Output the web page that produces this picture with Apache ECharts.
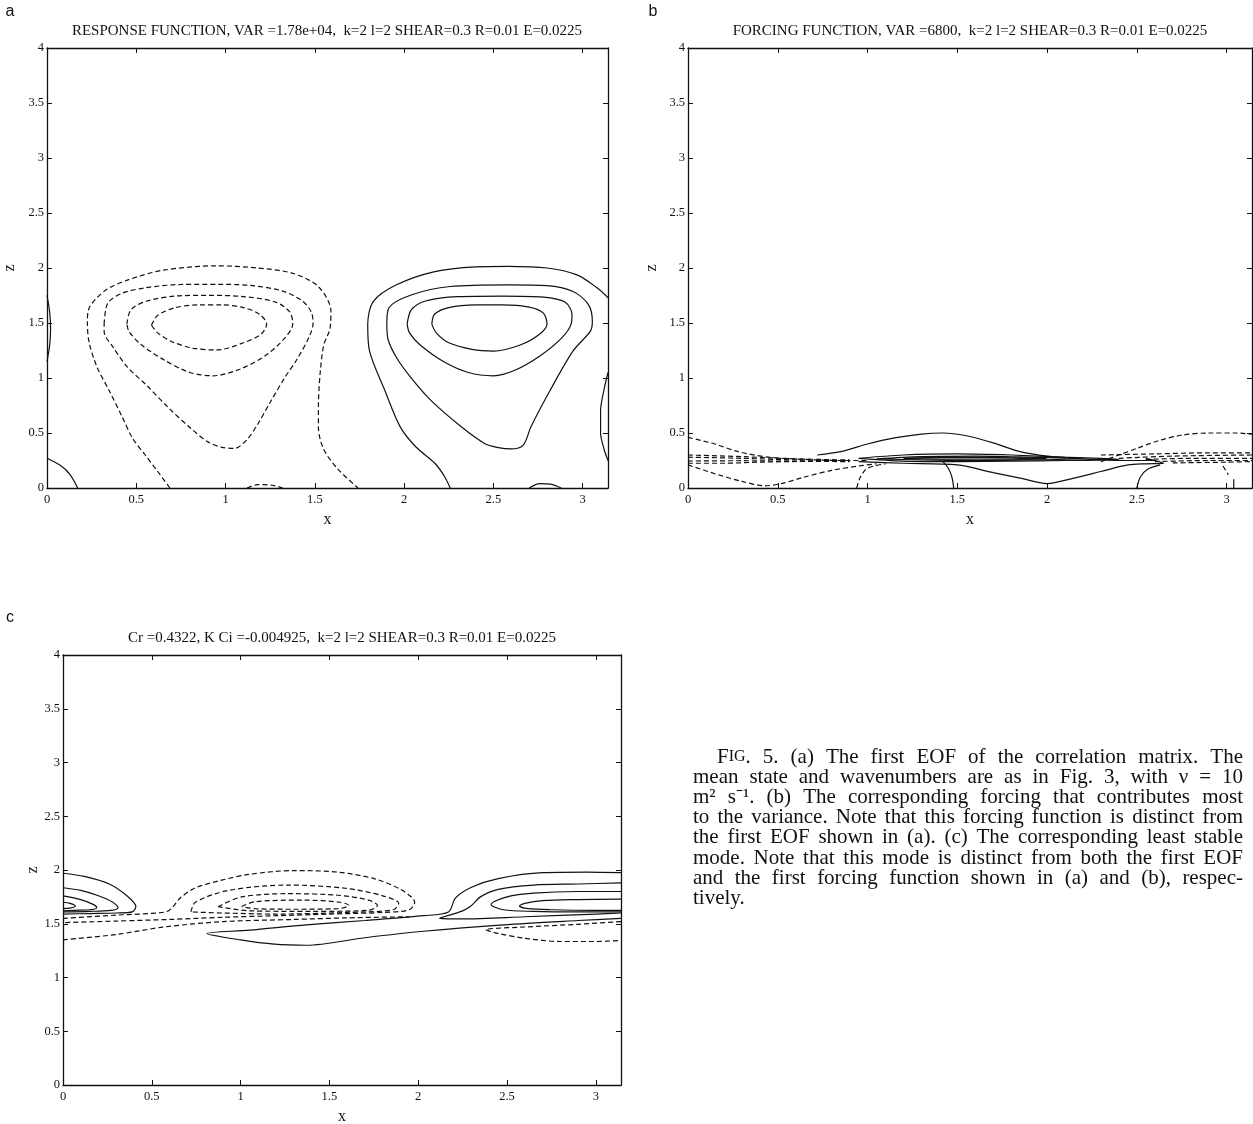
<!DOCTYPE html>
<html>
<head>
<meta charset="utf-8">
<script src="https://cdn.jsdelivr.net/npm/echarts@6/dist/echarts.min.js"></script>
<style>
html,body{margin:0;padding:0;background:#fff;}
#chart{width:1253px;height:1124px;}
</style>
</head>
<body>
<div id="chart"></div>
<script>
// ---------- titles / labels ----------
const panelLabels = ['a', 'b', 'c'];
const panelTitles = [
  'RESPONSE FUNCTION, VAR =1.78e+04,  k=2 l=2 SHEAR=0.3 R=0.01 E=0.0225',
  'FORCING FUNCTION, VAR =6800,  k=2 l=2 SHEAR=0.3 R=0.01 E=0.0225',
  'Cr =0.4322, K Ci =-0.004925,  k=2 l=2 SHEAR=0.3 R=0.01 E=0.0225'
];
const xName = 'x';
const zName = 'z';
const xRange = [0, 3.1416];
const zRange = [0, 4];
const tickStep = 0.5;

const captionLines = [
  'FIG. 5. (a) The first EOF of the correlation matrix. The',
  'mean state and wavenumbers are as in Fig. 3, with ν = 10',
  'm² s⁻¹. (b) The corresponding forcing that contributes most',
  'to the variance. Note that this forcing function is distinct from',
  'the first EOF shown in (a). (c) The corresponding least stable',
  'mode. Note that this mode is distinct from both the first EOF',
  'and the first forcing function shown in (a) and (b), respec-',
  'tively.'
];

// ---------- panel (a): response function contours [x, z] ----------
const aNeg1 = [[0.585,1.48],[0.62,1.57],[0.72,1.64],[0.85,1.665],[0.98,1.665],[1.10,1.64],[1.19,1.58],[1.23,1.49],[1.20,1.40],[1.10,1.32],[0.95,1.255],[0.82,1.27],[0.70,1.33],[0.62,1.41],[0.585,1.48]];
const aNeg2 = [[0.447,1.49],[0.47,1.62],[0.56,1.70],[0.72,1.745],[0.90,1.752],[1.10,1.74],[1.28,1.69],[1.36,1.60],[1.376,1.49],[1.33,1.36],[1.22,1.20],[1.08,1.08],[0.93,1.02],[0.80,1.05],[0.66,1.16],[0.53,1.30],[0.46,1.42],[0.447,1.49]];
const aNeg3 = [[0.32,1.49],[0.34,1.68],[0.42,1.77],[0.55,1.82],[0.75,1.85],[0.97,1.852],[1.15,1.84],[1.32,1.79],[1.43,1.70],[1.48,1.60],[1.49,1.50],[1.47,1.38],[1.40,1.17],[1.33,1.00],[1.25,0.78],[1.18,0.58],[1.12,0.44],[1.05,0.36],[0.98,0.37],[0.90,0.42],[0.80,0.55],[0.68,0.73],[0.56,0.93],[0.45,1.10],[0.37,1.28],[0.32,1.42],[0.32,1.49]];
const aNeg4 = [[0.688,0],[0.62,0.15],[0.55,0.30],[0.48,0.45],[0.42,0.65],[0.35,0.88],[0.28,1.10],[0.235,1.33],[0.226,1.52],[0.24,1.65],[0.33,1.80],[0.45,1.89],[0.65,1.98],[0.946,2.02],[1.18,2.0],[1.38,1.95],[1.52,1.83],[1.59,1.61],[1.585,1.45],[1.55,1.30],[1.53,1.05],[1.52,0.75],[1.52,0.55],[1.55,0.35],[1.63,0.17],[1.742,0]];
const aNeg5 = [[1.12,0],[1.18,0.03],[1.26,0.025],[1.32,0]];
const aPos1 = [[2.155,1.49],[2.17,1.58],[2.25,1.64],[2.40,1.665],[2.55,1.665],[2.70,1.645],[2.78,1.59],[2.80,1.49],[2.76,1.40],[2.65,1.30],[2.50,1.245],[2.38,1.26],[2.25,1.32],[2.18,1.41],[2.155,1.49]];
const aPos2 = [[2.017,1.49],[2.04,1.62],[2.12,1.70],[2.30,1.74],[2.55,1.745],[2.78,1.735],[2.90,1.69],[2.94,1.58],[2.935,1.49],[2.88,1.36],[2.76,1.20],[2.62,1.07],[2.50,1.02],[2.36,1.05],[2.22,1.15],[2.09,1.30],[2.03,1.41],[2.017,1.49]];
const aPos3 = [[1.903,1.49],[1.914,1.637],[2.043,1.757],[2.258,1.832],[2.58,1.847],[2.80,1.84],[2.946,1.787],[3.032,1.667],[3.054,1.516],[3.043,1.426],[2.946,1.246],[2.817,0.886],[2.71,0.556],[2.667,0.39],[2.60,0.355],[2.52,0.37],[2.45,0.405],[2.32,0.556],[2.15,0.796],[2.03,1.02],[1.957,1.186],[1.91,1.35],[1.903,1.49]];
const aPos4 = [[2.258,0],[2.226,0.105],[2.172,0.225],[2.065,0.375],[1.978,0.556],[1.892,0.886],[1.806,1.246],[1.796,1.486],[1.828,1.697],[1.957,1.847],[2.172,1.967],[2.40,2.01],[2.58,2.015],[2.80,2.0],[2.968,1.937],[3.08,1.82],[3.1416,1.73]];
const aPos5 = [[3.1416,1.05],[3.12,0.9],[3.10,0.7],[3.10,0.5],[3.12,0.35],[3.1416,0.25]];
const aPos6 = [[0,1.75],[0.015,1.6],[0.02,1.45],[0.015,1.3],[0,1.15]];
const aPos7 = [[0,0.27],[0.08,0.2],[0.13,0.12],[0.172,0]];
const aPos8 = [[2.70,0],[2.76,0.04],[2.82,0.035],[2.88,0]];

// ---------- panel (b): forcing function contours ----------
const bNeg1 = [[0,0.46],[0.15,0.40],[0.28,0.33],[0.45,0.28],[0.65,0.26],[0.85,0.25],[1.0,0.25]];
const bNeg2 = [[0,0.21],[0.15,0.13],[0.3,0.06],[0.43,0.02],[0.52,0.04],[0.65,0.10],[0.80,0.16],[0.95,0.20],[1.05,0.22]];
const bNeg3 = [[0,0.30],[0.3,0.285],[0.6,0.265],[0.9,0.255]];
const bNeg4 = [[0,0.28],[0.3,0.27],[0.6,0.255],[0.9,0.248]];
const bNeg5 = [[0,0.245],[0.3,0.248],[0.6,0.243],[0.9,0.24]];
const bNeg6 = [[0,0.225],[0.2,0.225],[0.4,0.235],[0.7,0.243]];
const bNeg7 = [[0.94,0],[0.96,0.1],[1.0,0.18],[1.1,0.22]];
const bNeg8 = [[2.30,0.24],[2.40,0.30],[2.50,0.36],[2.62,0.43],[2.75,0.48],[2.90,0.50],[3.05,0.50],[3.1416,0.49]];
const bNeg9 = [[2.3,0.30],[2.6,0.31],[2.9,0.32],[3.1416,0.32]];
const bNeg10 = [[2.4,0.27],[2.7,0.29],[3.1416,0.30]];
const bNeg11 = [[2.55,0.26],[2.8,0.27],[3.1416,0.27]];
const bNeg12 = [[2.6,0.24],[2.9,0.25],[3.1416,0.25]];
const bNeg13 = [[2.7,0.228],[3.0,0.235],[3.1416,0.24]];
const bNeg14 = [[2.98,0.2],[3.01,0.12]];
const bPos1 = [[0.72,0.30],[0.85,0.33],[1.0,0.40],[1.15,0.455],[1.30,0.49],[1.42,0.50],[1.55,0.475],[1.70,0.41],[1.85,0.33],[2.0,0.29],[2.2,0.265],[2.45,0.25],[2.6,0.25]];
const bPos2 = [[0.95,0.24],[1.2,0.225],[1.5,0.21],[1.7,0.14],[1.85,0.09],[2.0,0.04],[2.15,0.09],[2.3,0.15],[2.45,0.21],[2.55,0.22],[2.65,0.225],[2.60,0.25],[2.55,0.27]];
const bPos3 = [[0.95,0.27],[1.2,0.30],[1.5,0.31],[1.8,0.30],[2.1,0.28],[2.4,0.26],[2.1,0.25],[1.8,0.245],[1.5,0.24],[1.2,0.245],[0.95,0.27]];
const bPos4 = [[1.05,0.265],[1.3,0.285],[1.6,0.29],[1.9,0.28],[2.2,0.265],[1.9,0.255],[1.6,0.25],[1.3,0.255],[1.05,0.265]];
const bPos5 = [[1.2,0.27],[1.5,0.28],[1.8,0.275],[2.0,0.27],[1.8,0.262],[1.5,0.262],[1.2,0.27]];
const bPos6 = [[1.42,0.24],[1.45,0.18],[1.47,0.10],[1.48,0]];
const bPos7 = [[2.50,0],[2.52,0.1],[2.56,0.17],[2.63,0.21]];
const bPos8 = [[3.04,0],[3.04,0.08]];

// ---------- panel (c): least stable mode contours ----------
const cPos1 = [[0,1.97],[0.12,1.94],[0.26,1.87],[0.36,1.76],[0.41,1.66],[0.39,1.61],[0.30,1.60],[0.15,1.595],[0,1.59]];
const cPos2 = [[0,1.835],[0.10,1.81],[0.20,1.76],[0.28,1.70],[0.31,1.65],[0.27,1.625],[0.15,1.615],[0,1.61]];
const cPos3 = [[0,1.76],[0.10,1.725],[0.17,1.68],[0.19,1.65],[0.15,1.63],[0.06,1.625],[0,1.62]];
const cPos4 = [[0,1.70],[0.04,1.69],[0.07,1.665],[0.04,1.645],[0,1.64]];
const cPos5 = [[3.1416,1.975],[2.95,1.98],[2.70,1.975],[2.45,1.92],[2.30,1.84],[2.21,1.74],[2.17,1.61],[2.03,1.575],[1.70,1.53],[1.37,1.49],[1.05,1.44],[0.81,1.41],[1.00,1.35],[1.19,1.31],[1.37,1.30],[1.70,1.37],[2.03,1.43],[2.48,1.49],[2.90,1.53],[3.1416,1.55]];
const cPos6 = [[3.1416,1.88],[2.90,1.87],[2.65,1.86],[2.45,1.82],[2.35,1.75],[2.30,1.67],[2.25,1.62],[2.12,1.55],[2.25,1.545],[2.6,1.565],[3.0,1.59],[3.1416,1.60]];
const cPos7 = [[3.1416,1.80],[2.9,1.80],[2.65,1.785],[2.50,1.75],[2.41,1.68],[2.48,1.63],[2.65,1.615],[2.9,1.61],[3.1416,1.61]];
const cPos8 = [[3.1416,1.73],[2.9,1.725],[2.70,1.715],[2.60,1.69],[2.57,1.665],[2.62,1.64],[2.75,1.63],[3.0,1.625],[3.1416,1.625]];
const cNeg1 = [[0,1.55],[0.3,1.58],[0.58,1.61],[0.62,1.66],[0.66,1.74],[0.74,1.83],[0.88,1.90],[1.05,1.96],[1.30,1.995],[1.55,1.98],[1.75,1.92],[1.90,1.82],[1.98,1.70],[1.95,1.63],[1.80,1.605],[1.5,1.59],[1.2,1.575],[0.9,1.56],[0.6,1.54],[0.3,1.525],[0,1.51]];
const cNeg2 = [[0.72,1.61],[0.745,1.70],[0.93,1.81],[1.27,1.86],[1.59,1.83],[1.80,1.76],[1.89,1.69],[1.86,1.63],[1.6,1.605],[1.2,1.59],[0.9,1.60],[0.72,1.61]];
const cNeg3 = [[0.874,1.66],[1.006,1.75],[1.27,1.78],[1.55,1.765],[1.72,1.72],[1.77,1.67],[1.72,1.625],[1.4,1.615],[1.05,1.62],[0.874,1.66]];
const cNeg4 = [[1.006,1.66],[1.08,1.705],[1.35,1.72],[1.56,1.70],[1.61,1.67],[1.55,1.64],[1.3,1.635],[1.08,1.64],[1.006,1.66]];
const cNeg5 = [[0,1.35],[0.3,1.40],[0.57,1.47],[0.9,1.52],[1.3,1.54],[1.6,1.555],[1.95,1.565]];
const cNeg6 = [[3.1416,1.52],[2.9,1.495],[2.6,1.47],[2.38,1.445],[2.45,1.41],[2.6,1.365],[2.8,1.335],[3.0,1.335],[3.1416,1.345]];

const contours = [
  // [grid, dashed, data]
  [0,1,aNeg1],[0,1,aNeg2],[0,1,aNeg3],[0,1,aNeg4],[0,1,aNeg5],
  [0,0,aPos1],[0,0,aPos2],[0,0,aPos3],[0,0,aPos4],[0,0,aPos5],[0,0,aPos6],[0,0,aPos7],[0,0,aPos8],
  [1,1,bNeg1],[1,1,bNeg2],[1,1,bNeg3],[1,1,bNeg4],[1,1,bNeg5],[1,1,bNeg6],[1,1,bNeg7],[1,1,bNeg8],
  [1,1,bNeg9],[1,1,bNeg10],[1,1,bNeg11],[1,1,bNeg12],[1,1,bNeg13],[1,1,bNeg14],
  [1,0,bPos1],[1,0,bPos2],[1,0,bPos3],[1,0,bPos4],[1,0,bPos5],[1,0,bPos6],[1,0,bPos7],[1,0,bPos8],
  [2,0,cPos1],[2,0,cPos2],[2,0,cPos3],[2,0,cPos4],[2,0,cPos5],[2,0,cPos6],[2,0,cPos7],[2,0,cPos8],
  [2,1,cNeg1],[2,1,cNeg2],[2,1,cNeg3],[2,1,cNeg4],[2,1,cNeg5],[2,1,cNeg6]
];

// ---------- layout ----------
const grids = [
  {left: 47, top: 48, width: 561, height: 440},
  {left: 688, top: 48, width: 564, height: 440},
  {left: 63, top: 655, width: 558, height: 430}
];
const zNameGap = [29, 28, 22];
const FONT = '"Liberation Serif", "Times New Roman", serif';
const INK = '#111';

const xAxes = [], yAxes = [];
grids.forEach((g, i) => {
  const common = {
    type: 'value', gridIndex: i, splitLine: {show: false},
    axisLine: {show: true, onZero: false, lineStyle: {color: INK, width: 1.3}},
    axisTick: {show: true, inside: true, length: 5, lineStyle: {color: INK, width: 1}},
  };
  xAxes.push(Object.assign({}, common, {
    position: 'bottom', min: xRange[0], max: xRange[1], interval: tickStep,
    name: xName, nameLocation: 'middle', nameGap: 24,
    nameTextStyle: {fontFamily: FONT, fontSize: 16, color: INK},
    axisLabel: {show: true, showMaxLabel: false, margin: 5, fontFamily: FONT, fontSize: 12.5, color: INK,
      formatter: v => String(v)}
  }));
  xAxes.push(Object.assign({}, common, {
    position: 'top', min: xRange[0], max: xRange[1], interval: tickStep,
    axisLabel: {show: false}
  }));
  yAxes.push(Object.assign({}, common, {
    position: 'left', min: zRange[0], max: zRange[1], interval: tickStep,
    name: zName, nameLocation: 'middle', nameGap: zNameGap[i], nameRotate: 90,
    nameTextStyle: {fontFamily: FONT, fontSize: 16, color: INK},
    axisLabel: {show: true, margin: 3, fontFamily: FONT, fontSize: 12.5, color: INK,
      formatter: v => String(v)}
  }));
  yAxes.push(Object.assign({}, common, {
    position: 'right', min: zRange[0], max: zRange[1], interval: tickStep,
    axisLabel: {show: false}
  }));
});

const series = contours.map(([gi, dashed, data]) => ({
  type: 'line', xAxisIndex: gi * 2, yAxisIndex: gi * 2, data: data,
  showSymbol: false, symbol: 'none', smooth: 0.3, silent: true, clip: true,
  lineStyle: {color: INK, width: 1.2, type: dashed ? [5, 3] : 'solid'}
}));

const graphics = [];
const labelPos = [[10, 12], [653, 12], [10, 618]];
panelLabels.forEach((t, i) => {
  graphics.push({type: 'text', x: labelPos[i][0], y: labelPos[i][1],
    style: {text: t, font: '16px "Liberation Sans", Arial, sans-serif', fill: INK, textAlign: 'center', textVerticalAlign: 'middle'}});
});
const titlePos = [[327, 31], [970, 31], [342, 638]];
panelTitles.forEach((t, i) => {
  graphics.push({type: 'text', x: titlePos[i][0], y: titlePos[i][1],
    style: {text: t, font: '15px ' + FONT, fill: INK, textAlign: 'center', textVerticalAlign: 'middle'}});
});

// caption: justified lines, words placed individually
const CAP_SIZE = 21, CAP_SMALL = 16;
const capLeft = 693, capRight = 1243, capIndent = 24, capY0 = 757, capDY = 20.2;
const mctx = document.createElement('canvas').getContext('2d');
function measure(word, size) {
  mctx.font = size + 'px ' + FONT;
  return mctx.measureText(word).width;
}
function wordWidth(w) {
  if (w === 'FIG.') return measure('F', CAP_SIZE) + measure('IG', CAP_SMALL) + measure('.', CAP_SIZE);
  return measure(w, CAP_SIZE);
}
captionLines.forEach((line, li) => {
  const words = line.split(' ');
  const x0 = capLeft + (li === 0 ? capIndent : 0);
  const widths = words.map(wordWidth);
  const total = widths.reduce((s, w) => s + w, 0);
  const last = li === captionLines.length - 1;
  const gap = (last || words.length < 2) ? measure(' ', CAP_SIZE) : (capRight - x0 - total) / (words.length - 1);
  let x = x0;
  words.forEach((w, wi) => {
    const txt = w === 'FIG.' ? '{b|F}{s|IG}{b|.}' : w;
    graphics.push({type: 'text', x: x, y: capY0 + li * capDY,
      style: {text: txt, font: CAP_SIZE + 'px ' + FONT, fill: INK, textAlign: 'left', textVerticalAlign: 'middle',
        rich: {b: {fontSize: CAP_SIZE, fontFamily: FONT, fill: INK}, s: {fontSize: CAP_SMALL, fontFamily: FONT, fill: INK}}}});
    x += widths[wi] + gap;
  });
});

const chart = echarts.init(document.getElementById('chart'), null, {renderer: 'canvas'});
chart.setOption({
  animation: false,
  backgroundColor: '#fff',
  grid: grids.map(g => Object.assign({containLabel: false, outerBoundsMode: 'none'}, g)),
  xAxis: xAxes,
  yAxis: yAxes,
  series: series,
  graphic: graphics
});
</script>
</body>
</html>
